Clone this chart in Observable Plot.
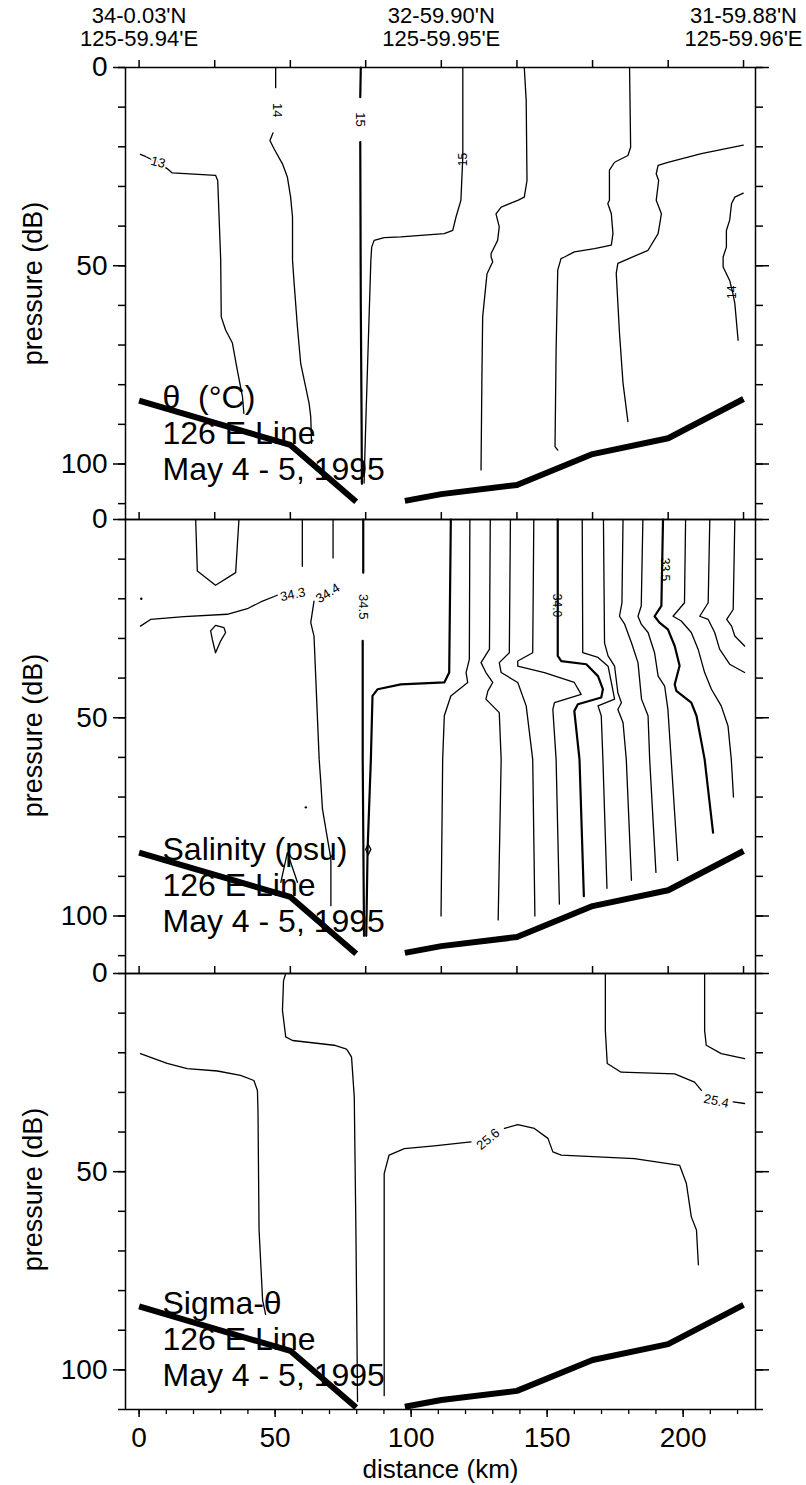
<!DOCTYPE html>
<html><head><meta charset="utf-8">
<script src="https://cdn.jsdelivr.net/npm/d3@7"></script>
<script src="https://cdn.jsdelivr.net/npm/@observablehq/plot@0.6"></script>
<style>
html,body{margin:0;padding:0;background:#fff;}
#chart{width:806px;height:1485px;overflow:hidden;position:relative;}
#chart svg{display:block;overflow:visible;}
</style></head>
<body><div id="chart"></div>
<script>
// ---------- axes / ticks ----------
const X_DOMAIN = [-5, 226.6];
const stations = [0, 27.8, 55.6, 83.3, 111.1, 138.9, 166.7, 194.5, 222.2];
const topStations = [0, 111.1, 222.2];
const topLat = ["34-0.03'N", "32-59.90'N", "31-59.88'N"];
const topLon = ["125-59.94'E", "125-59.95'E", "125-59.96'E"];
const yMinor = [0, 10, 20, 30, 40, 50, 60, 70, 80, 90, 100, 110];
const yMajor = [0, 50, 100];
const xMinor = [0, 10, 20, 30, 40, 50, 60, 70, 80, 90, 100, 110, 120, 130, 140, 150, 160, 170, 180, 190, 200, 210, 220];
const xMajor = [0, 50, 100, 150, 200];

// ---------- bathymetry (distance km, pressure dB) ----------
const bathyLeft = [[0, 84], [55.6, 95.2], [79.8, 109.5]];
const bathyRight = [[97.7, 109.3], [111.1, 107.6], [138.9, 105.3], [166.7, 97.5], [194.5, 93.5], [222.2, 83.6]];

// ---------- panel titles ----------
const thetaTitle = ["θ  (°C)", "126 E Line", "May 4 - 5, 1995"];
const salTitle = ["Salinity (psu)", "126 E Line", "May 4 - 5, 1995"];
const sigTitle = ["Sigma-θ", "126 E Line", "May 4 - 5, 1995"];

// ---------- potential temperature contours ----------
const thetaLines = [
  ["13", [[0.5,21.9],[2.5,22.5],[7,24],[10.3,25.5],[12.2,26.6],[28.1,27.2],[28.9,28.5],[30,48.6],[30.2,62.9],[31.8,66.2],[34.3,69.5],[36.1,76.3],[38,83],[38.5,87.2]]],
  ["14", [[50.2,0],[50.2,5.1],null,[49.2,16.5],[48.1,18.4],[49.6,20.5],[52.7,24.3],[54.5,27.6],[55.7,32.7],[56.4,37.7],[56.4,48.6],[57,54.5],[58.2,65.4],[59.4,74.6],[62.5,84.7],[63.1,88.1],[63.4,94.8]]],
  ["15", [[81.5,0],[81.3,7.5],null,[81.3,18.8],[81.5,60],[81.8,90],[81.9,105]]],
  ["15b", [[119,0],[119,22.6],[118.3,33.5],[116.5,37.7],[115.3,41.1],[112.2,41.9],[96.2,42.7],[90.1,42.9],[86.4,43.6],[85.5,45.3],[85.2,48.6],[83.4,88.1],[82.7,104.8]]],
  ["E", [[141.6,0],[142.3,8.3],[142.6,28.5],[141.6,32.7],[139.2,33.5],[133.1,35.2],[131.2,36.9],[132.4,40.2],[131.8,43.6],[129.4,46.9],[129.4,47.8],[130,49],[127.9,52],[126.3,62.9],[126,79.7],[125.7,101.5]]],
  ["F", [[180.3,0],[180.7,20.1],[179.7,22.2],[174.8,23.9],[172.9,25.9],[172.9,33.5],[172.3,34.3],[173.6,36.9],[174.2,41.9],[173.6,44.8],[167.4,45.7],[160,46.5],[156.4,47.8],[155.1,48.2],[153.9,51.1],[153.3,71.3],[152.9,95.6],[153.9,96.5]]],
  ["G", [[222.1,19.6],[206.7,21.7],[194.4,23.9],[190.8,24.7],[190.1,26.8],[191,28.5],[190.1,33.5],[192,36.9],[190.8,41.9],[187.1,46.1],[180,48.2],[176,49.4],[175.4,51.9],[176.6,67],[177.9,79.6],[179.7,89.3]]],
  ["H", [[222.1,31.7],[219,32.7],[217.8,34.3],[217.1,38.5],[215.9,41.1],[215.9,45.3],[214.7,47.8],[214.7,50.3],[217.1,53.7],[218.2,56.7],[219,59.5],[220.2,68.8]]]
];
const thetaHeavy = ["15"];
const thetaLabels = [
  {t: "13", x: 7, y: 23.9, r: 15},
  {t: "14", x: 50.6, y: 10.8, r: 90},
  {t: "15", x: 81.4, y: 13.1, r: 90}
];
const thetaHandLabels = [
  {t: "15", x: 119, y: 23.2, r: -90},
  {t: "14", x: 218.2, y: 56.7, r: -90}
];

// ---------- salinity contours ----------
const salLines = [
  ["U", [[20.8,0],[21.4,13],[28.1,16.6],[35.5,13.4],[36.7,0]]],
  ["34.3", [[0.5,26.9],[4.2,25.2],[16.5,24.5],[32.4,23.9],[39.8,22.5],[44.7,20.8],[50.8,19.1]]],
  ["drop", [[28.1,33.6],[26.9,30.2],[26.3,28.1],[28.1,26.7],[31.2,27.3],[31.8,28.5],[30,30.6],[28.1,33.6]]],
  ["s60", [[60,0],[60,11.8]]],
  ["s71", [[71.3,0],[71.3,9.7]]],
  ["34.4", [[64.3,20.6],[63.1,26],[64.3,29.4],[66.2,60.5],[66.8,66.3],[67.4,73],[70.5,85.6],[70.5,97.4]]],
  ["arch", [[52.1,91.5],[54.5,84],[58.2,91.5]]],
  ["34.5", [[82.4,0],[82.4,13.4],null,[82.2,30.6],[82.2,60.5],[82.7,105]]],
  ["L1", [[114.6,0],[114,38.6],[112.2,41.1],[96.2,41.6],[87.7,42.8],[85.8,44.5],[85.2,60.5],[84,83.1],[83.5,105]]],
  ["oval", [[84.2,81.9],[85.2,83.2],[84.2,84.6],[83.3,83.2],[84.2,81.9]]],
  ["L2", [[121.6,0],[121.4,35.3],[120.2,38.6],[120.8,41.1],[114.6,44.5],[112.2,49.5],[111.6,60.5],[111,100]]],
  ["L3", [[129.1,0],[128.8,32.7],[125.7,36.1],[127.5,38.6],[130,41.1],[128.2,43.3],[127.5,45.3],[132.4,48.7],[133.1,60.5],[132,101]]],
  ["L4", [[136.5,0],[136.1,33.6],[132.4,36.1],[133.1,38.6],[139.2,41.1],[142.3,47],[144.7,60.5],[145.5,100]]],
  ["L5", [[145.1,0],[144.7,33.6],[139.2,35.7],[139.2,37],[149,38.6],[160,41.1],[162.5,44.1],[152.7,46.2],[152.1,47.9],[153.3,60.5],[154.5,97]]],
  ["L6", [[153.9,0],[153.9,34.4],[155.2,35.7],[164.4,36.5],[168.7,39.5],[170.5,42.8],[169.9,44.9],[161.3,46.6],[160,48.3],[161.9,60.5],[163.5,95]]],
  ["L7", [[162.9,0],[163.1,33.6],[168.7,34.8],[172.4,37],[173.6,41.1],[174.8,45.3],[168.7,47],[169.9,49.5],[170.5,60.5],[172,93]]],
  ["L8", [[170.7,0],[171.1,31.1],[172.4,34.4],[174.8,37],[176,43.7],[177.3,46.2],[176,47.9],[177.9,51.2],[179.1,60.5],[181,91]]],
  ["L9", [[177.9,0],[177.5,21],[176.6,24.4],[178.5,26.4],[181,31.1],[183.4,36.1],[184.7,45.3],[187.1,49.5],[187.7,60.5],[190,89]]],
  ["L10", [[185.2,0],[184.6,21.8],[183.4,24.4],[184.6,26.4],[187.1,28.5],[189.5,33.6],[190.8,39.5],[193.2,42],[194.4,47.9],[195.6,60.5],[198,86]]],
  ["L11", [[192.6,0],[192,21.8],[189.5,24.4],[191.3,26],[194.4,27.7],[196.9,31.9],[198.7,36.9],[196.9,41.6],[197.5,43.2],[203,46.2],[204.9,49.5],[207.9,60.5],[211,79]]],
  ["L12", [[200.9,0],[200.5,21],[196.3,24.4],[199.3,25.6],[203,28.5],[205.5,32.7],[207.9,38.6],[210.4,42.8],[214,47],[216.5,52.1],[217.7,60.5],[218.5,70]]],
  ["L13", [[209.8,0],[209.2,21],[206.1,24.4],[209.2,25.2],[211.6,28.5],[213.4,32.7],[217.1,36.5],[222.6,38.6]]],
  ["L14", [[219,0],[218.4,22.7],[216,25.2],[217.8,26.9],[219,29.4],[222.6,31.9]]]
];
const salHeavy = ["34.5", "L1", "L6", "L11"];
const salDots = [[0.8, 20], [61.3, 72.6]];
const salLabels = [
  {t: "34.3", x: 56.5, y: 18.9, r: -12},
  {t: "34.4", x: 69.4, y: 18.6, r: -32},
  {t: "34.5", x: 82.3, y: 22, r: 90}
];
const salHandLabels = [
  {t: "34.0", x: 153.7, y: 21.7, r: 90},
  {t: "33.5", x: 193.1, y: 12.6, r: 90}
];

// ---------- sigma-theta contours ----------
const sigLines = [
  ["a", [[0.5,20.2],[10.3,22.7],[17.7,24],[28.8,24.6],[37.3,25.7],[42.2,27],[43.5,29.5],[43.7,34.5],[44.1,64.7],[45.4,82.4],[46.5,86]]],
  ["b", [[53.9,0],[53.1,1.8],[52.7,9.3],[53.9,16],[56.4,16.9],[71.7,18.1],[76,19],[76.6,19.4],[78.1,21.1],[79.1,31.2],[79.7,64.7],[80.2,100],[80.3,108]]],
  ["25.6", [[90.1,106.5],[90.1,50.5],[91.9,45.8],[97.5,44.2],[108.5,43.5],[122,42.5],null,[134.3,39.1],[139.2,38.1],[145.3,39.1],[150.3,41.6],[152.1,45],[155.2,45.8],[182.1,46.7],[198.7,48.4],[201.2,53],[203,61.4],[204.9,64.7],[205.6,73.5]]],
  ["25.4", [[171.4,0],[171.4,14.4],[172.1,22.7],[177.2,24.9],[196.9,25.3],[204.2,27.4],[206.7,29.5],null,[218.4,32.4],[222.6,32.8]]],
  ["e", [[207.9,0],[207.9,14.4],[208.5,18.1],[214,20.2],[222.6,21.5]]]
];
const sigHeavy = [];
const sigLabels = [
  {t: "25.6", x: 128.3, y: 41.8, r: -40},
  {t: "25.4", x: 212.2, y: 32.2, r: 12}
];

// ---------- drawing ----------
const FONT = "'Liberation Sans', Arial, Helvetica, sans-serif";

function rows(lines, keep) {
  const out = [];
  lines.forEach(([id, pts]) => {
    if (!keep(id)) return;
    pts.forEach(p => out.push(p ? {id, x: p[0], y: p[1]} : {id, x: NaN, y: NaN}));
  });
  return out;
}
const bathyRows = [
  ...bathyLeft.map(p => ({id: "L", x: p[0], y: p[1]})),
  ...bathyRight.map(p => ({id: "R", x: p[0], y: p[1]}))
];

function panel({lines, heavy, labels, hand, dots, title, top, bottom, plotH, yMax, isTop, isBottom}) {
  const marks = [
    Plot.line(rows(lines, id => !heavy.includes(id)), {x: "x", y: "y", z: "id", stroke: "black", strokeWidth: 1.3, curve: "linear"}),
    Plot.line(rows(lines, id => heavy.includes(id)), {x: "x", y: "y", z: "id", stroke: "black", strokeWidth: 2.2, curve: "linear"}),
    Plot.line(bathyRows, {x: "x", y: "y", z: "id", stroke: "black", strokeWidth: 6, strokeLinecap: "butt", strokeLinejoin: "round"}),
    Plot.text(labels, {x: "x", y: "y", text: "t", rotate: "r", fontSize: 13, fontFamily: FONT, fill: "black", stroke: "white", strokeWidth: 4, paintOrder: "stroke"}),
    Plot.text(hand, {x: "x", y: "y", text: "t", rotate: "r", fontSize: 12, fontFamily: FONT, fill: "black"}),
    Plot.text([title.join("\n")], {text: d => d, frameAnchor: "top-left", dx: 37, dy: 412, textAnchor: "start", lineAnchor: "bottom", lineHeight: 1.125, fontSize: 32, fontFamily: FONT, fill: "black"}),
    Plot.text(["pressure (dB)"], {text: d => d, frameAnchor: "top-left", dx: -92, dy: 216, rotate: -90, textAnchor: "middle", lineAnchor: "middle", fontSize: 27, fontFamily: FONT, fill: "black"}),
    Plot.frame({stroke: "black", strokeWidth: 1.5}),
    Plot.axisY(yMinor.filter(v => v <= yMax), {anchor: "left", tickSize: 7, strokeWidth: 1.5, tickFormat: () => ""}),
    Plot.axisY(yMajor, {anchor: "left", tickSize: 12, strokeWidth: 1.5, tickPadding: 6, fontSize: 28, fontFamily: FONT}),
    Plot.axisY(yMinor.filter(v => v <= yMax), {anchor: "right", tickSize: 7, strokeWidth: 1.5, tickFormat: () => ""}),
    Plot.axisY(yMajor, {anchor: "right", tickSize: 13, strokeWidth: 1.5, tickFormat: () => ""}),
    Plot.axisX(stations, {anchor: "top", tickSize: 8, strokeWidth: 1.5, tickFormat: () => ""})
  ];
  if (dots) marks.push(Plot.dot(dots, {x: d => d[0], y: d => d[1], r: 1.2, fill: "black"}));
  if (isTop) {
    const tops = topStations.map((s, i) => ({x: s, lat: topLat[i], lon: topLon[i]}));
    marks.push(Plot.text(tops, {x: "x", text: "lat", frameAnchor: "top", dy: -45, lineAnchor: "bottom", fontSize: 22, fontFamily: FONT, fill: "black"}));
    marks.push(Plot.text(tops, {x: "x", text: "lon", frameAnchor: "top", dy: -22, lineAnchor: "bottom", fontSize: 22, fontFamily: FONT, fill: "black"}));
  }
  if (isBottom) {
    marks.push(Plot.axisX(xMinor, {anchor: "bottom", tickSize: 5, strokeWidth: 1.3, tickFormat: () => ""}));
    marks.push(Plot.axisX(xMajor, {anchor: "bottom", tickSize: 8, strokeWidth: 1.5, tickPadding: 10, fontSize: 28, fontFamily: FONT}));
    marks.push(Plot.text(["distance (km)"], {text: d => d, frameAnchor: "bottom", dy: 68, lineAnchor: "bottom", fontSize: 26, fontFamily: FONT, fill: "black"}));
  }
  return Plot.plot({
    width: 806,
    height: top + plotH + bottom,
    marginLeft: 125, marginRight: 51, marginTop: top, marginBottom: bottom,
    style: {overflow: "visible", fontFamily: FONT, background: "transparent", color: "black"},
    x: {domain: X_DOMAIN, axis: null, label: null},
    y: {domain: [0, yMax], reverse: true, axis: null, label: null},
    marks
  });
}

const chart = document.getElementById("chart");
chart.append(panel({lines: thetaLines, heavy: thetaHeavy, labels: thetaLabels, hand: thetaHandLabels, title: thetaTitle, top: 67, bottom: 0, plotH: 452, yMax: 114, isTop: true}));
chart.append(panel({lines: salLines, heavy: salHeavy, labels: salLabels, hand: salHandLabels, dots: salDots, title: salTitle, top: 0, bottom: 0, plotH: 454, yMax: 114.5}));
chart.append(panel({lines: sigLines, heavy: sigHeavy, labels: sigLabels, hand: [], title: sigTitle, top: 0, bottom: 76, plotH: 436, yMax: 110, isBottom: true}));
</script>
</body></html>
